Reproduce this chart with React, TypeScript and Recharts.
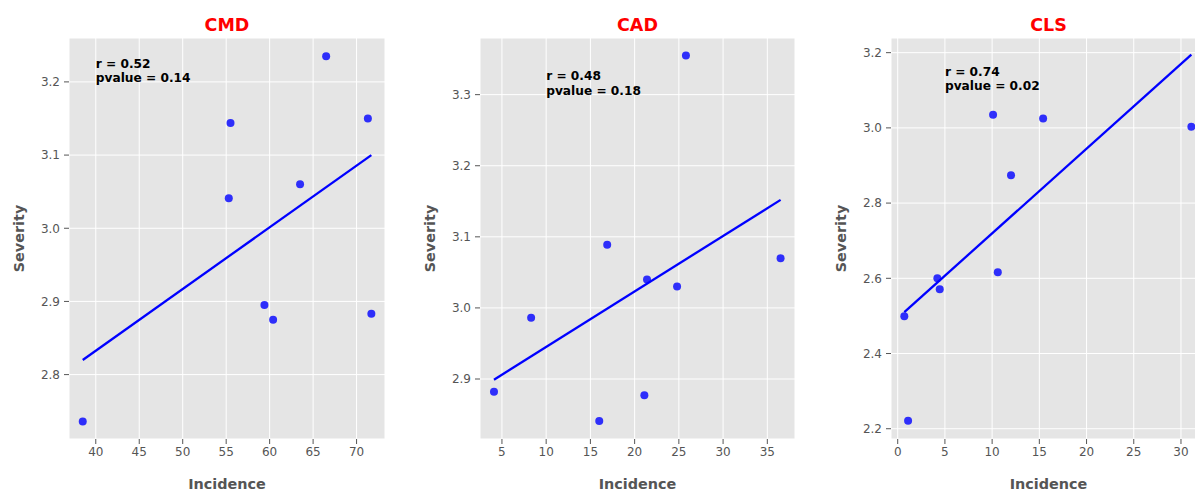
import React from 'react';
import { ScatterChart, Scatter, XAxis, YAxis, CartesianGrid, ReferenceDot } from 'recharts';

const FONT = 'DejaVu Sans';

// CMD panel
const cmdIncidence = [38.5, 55.3, 55.5, 59.4, 60.4, 63.5, 66.5, 71.3, 71.7];
const cmdSeverity = [2.736, 3.041, 3.144, 2.895, 2.875, 3.06, 3.235, 3.15, 2.883];
const cmdFitX = [38.5, 71.7];
const cmdFitY = [2.82, 3.1];
const cmdXTicks = [40, 45, 50, 55, 60, 65, 70];
const cmdYTicks = [2.8, 2.9, 3.0, 3.1, 3.2];

// CAD panel
const cadIncidence = [4.1, 8.3, 16.0, 16.9, 21.1, 21.4, 24.8, 25.8, 36.5];
const cadSeverity = [2.882, 2.986, 2.841, 3.089, 2.877, 3.04, 3.03, 3.355, 3.07];
const cadFitX = [4.1, 36.5];
const cadFitY = [2.899, 3.152];
const cadXTicks = [5, 10, 15, 20, 25, 30, 35];
const cadYTicks = [2.9, 3.0, 3.1, 3.2, 3.3];

// CLS panel
const clsIncidence = [0.7, 1.1, 4.2, 4.45, 10.1, 10.6, 12.0, 15.4, 31.1];
const clsSeverity = [2.499, 2.221, 2.6, 2.571, 3.035, 2.616, 2.874, 3.025, 3.003];
const clsFitX = [0.7, 31.1];
const clsFitY = [2.51, 3.195];
const clsXTicks = [0, 5, 10, 15, 20, 25, 30];
const clsYTicks = [2.2, 2.4, 2.6, 2.8, 3.0, 3.2];

const toPoints = (xs: number[], ys: number[]) => xs.map((x, i) => ({ x, y: ys[i] }));

interface PanelProps {
  title: string;
  left: number;
  yAxisWidth: number;
  width: number;
  xDomain: [number, number];
  yDomain: [number, number];
  xTicks: number[];
  yTicks: number[];
  incidence: number[];
  severity: number[];
  fitX: number[];
  fitY: number[];
  r: string;
  pvalue: string;
  noteX: number;
  noteY: number;
}

const HEIGHT = 490;
const TOP = 38;
const X_AXIS_H = 51;
const RIGHT = 15;

const Panel: React.FC<PanelProps> = (p) => {
  const plotLeft = p.yAxisWidth;
  const plotRight = p.width - RIGHT;
  const plotMid = (plotLeft + plotRight) / 2;
  const plotMidY = (TOP + HEIGHT - X_AXIS_H) / 2;

  return (
    <div style={{ position: 'absolute', left: p.left, top: 0 }}>
      <ScatterChart
        width={p.width}
        height={HEIGHT}
        margin={{ top: TOP, right: RIGHT, bottom: 0, left: 0 }}
      >
        <CartesianGrid fill="#E5E5E5" stroke="#FFFFFF" strokeWidth={1} />
        <XAxis
          type="number"
          dataKey="x"
          domain={p.xDomain}
          ticks={p.xTicks}
          allowDataOverflow
          height={X_AXIS_H}
          axisLine={false}
          tickLine={{ stroke: '#555555' }}
          tickSize={5}
          tickMargin={3.5}
          tick={{ fill: '#555555', fontSize: 12, fontFamily: FONT }}
        />
        <YAxis
          type="number"
          dataKey="y"
          domain={p.yDomain}
          ticks={p.yTicks}
          allowDataOverflow
          width={p.yAxisWidth}
          axisLine={false}
          tickLine={{ stroke: '#555555' }}
          tickSize={5}
          tickMargin={4}
          tickFormatter={(v: number) => v.toFixed(1)}
          tick={{ fill: '#555555', fontSize: 12, fontFamily: FONT }}
        />
        <Scatter
          data={toPoints(p.incidence, p.severity)}
          isAnimationActive={false}
          shape={(s: any) => (
            <circle cx={s.cx} cy={s.cy} r={4} fill="#0000FF" fillOpacity={0.8} />
          )}
        />
        <Scatter
          data={toPoints(p.fitX, p.fitY)}
          isAnimationActive={false}
          line={{ stroke: '#0000FF', strokeWidth: 2.3 }}
          shape={() => <g />}
        />
        <ReferenceDot
          x={p.noteX}
          y={p.noteY}
          r={0}
          shape={(s: any) => (
            <text x={s.cx} y={s.cy} fontFamily={FONT} fontSize={12.2} fontWeight="bold" fill="#000000">
              <tspan x={s.cx} dy={-14.4}>{`r = ${p.r}`}</tspan>
              <tspan x={s.cx} dy={14.4}>{`pvalue = ${p.pvalue}`}</tspan>
            </text>
          )}
        />
        <text
          x={plotMid}
          y={30.7}
          textAnchor="middle"
          fontFamily={FONT}
          fontSize={17.5}
          fontWeight="bold"
          fill="#FF0000"
        >
          {p.title}
        </text>
        <text
          x={plotLeft - 45}
          y={plotMidY}
          textAnchor="middle"
          transform={`rotate(-90, ${plotLeft - 45}, ${plotMidY})`}
          fontFamily={FONT}
          fontSize={14.4}
          fontWeight="bold"
          fill="#555555"
        >
          Severity
        </text>
        <text
          x={plotMid}
          y={488.5}
          textAnchor="middle"
          fontFamily={FONT}
          fontSize={14.4}
          fontWeight="bold"
          fill="#555555"
        >
          Incidence
        </text>
      </ScatterChart>
    </div>
  );
};

export default function App() {
  return (
    <div
      style={{
        position: 'fixed',
        left: 0,
        top: 0,
        width: 1195,
        height: 490,
        overflow: 'hidden',
        background: '#FFFFFF',
      }}
    >
      <Panel
        title="CMD"
        left={0}
        yAxisWidth={69}
        width={400}
        xDomain={[36.92, 73.27]}
        yDomain={[2.712, 3.26]}
        xTicks={cmdXTicks}
        yTicks={cmdYTicks}
        incidence={cmdIncidence}
        severity={cmdSeverity}
        fitX={cmdFitX}
        fitY={cmdFitY}
        r="0.52"
        pvalue="0.14"
        noteX={40}
        noteY={3.2}
      />
      <Panel
        title="CAD"
        left={410}
        yAxisWidth={70}
        width={400}
        xDomain={[2.52, 38.13]}
        yDomain={[2.8156, 3.3797]}
        xTicks={cadXTicks}
        yTicks={cadYTicks}
        incidence={cadIncidence}
        severity={cadSeverity}
        fitX={cadFitX}
        fitY={cadFitY}
        r="0.48"
        pvalue="0.18"
        noteX={10}
        noteY={3.3}
      />
      <Panel
        title="CLS"
        left={820}
        yAxisWidth={71}
        width={401}
        xDomain={[-0.71, 32.65]}
        yDomain={[2.1727, 3.239]}
        xTicks={clsXTicks}
        yTicks={clsYTicks}
        incidence={clsIncidence}
        severity={clsSeverity}
        fitX={clsFitX}
        fitY={clsFitY}
        r="0.74"
        pvalue="0.02"
        noteX={5}
        noteY={3.1}
      />
    </div>
  );
}
